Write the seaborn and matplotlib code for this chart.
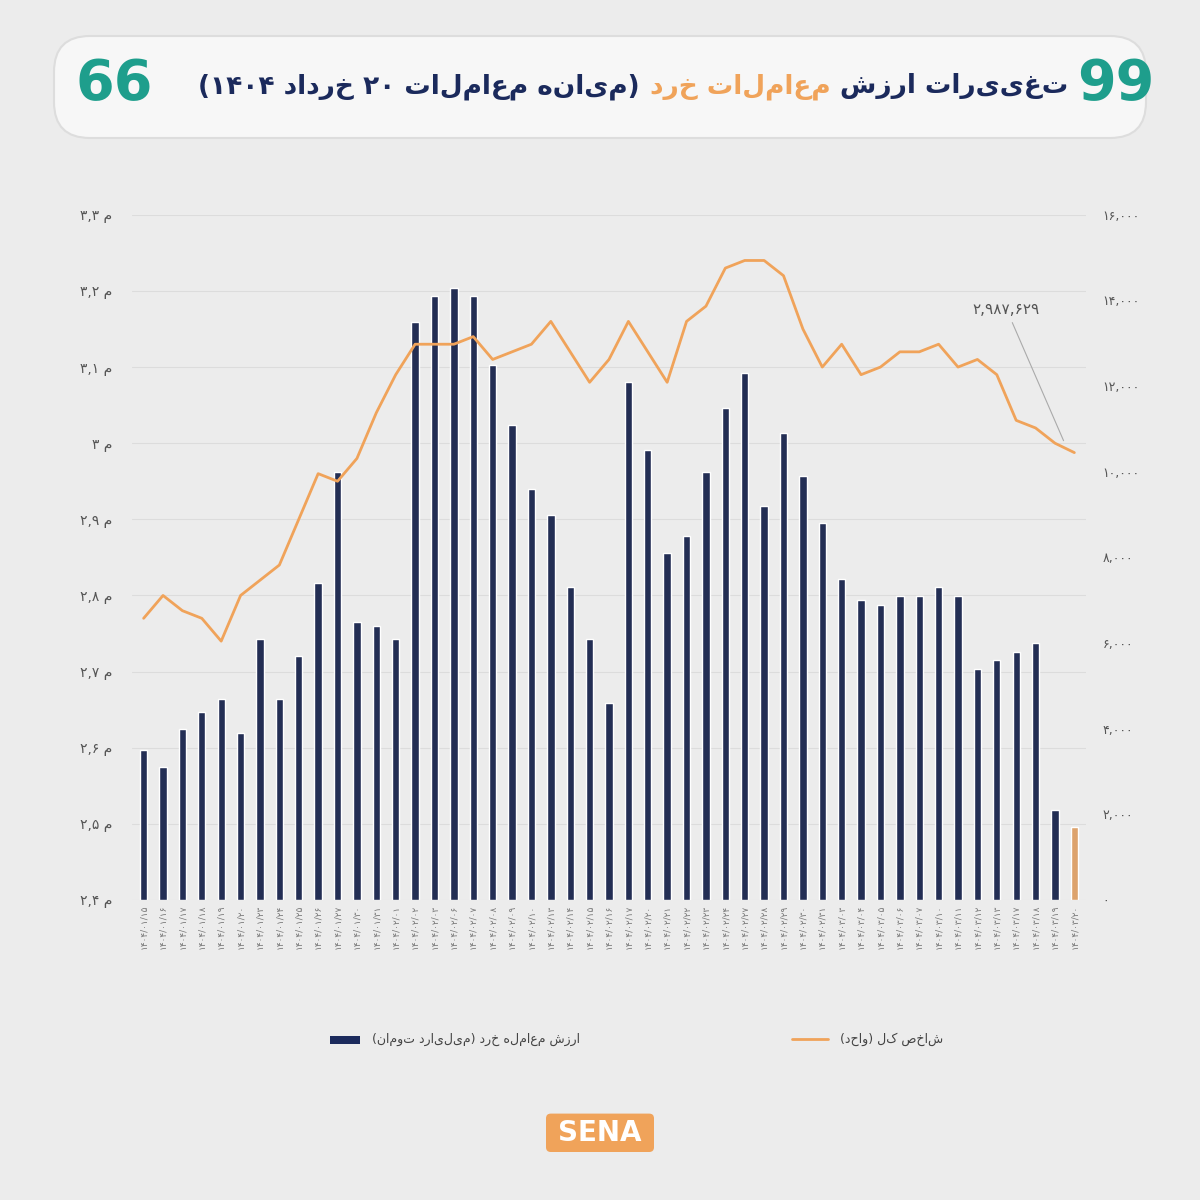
import matplotlib
matplotlib.use("Agg")
import matplotlib.pyplot as plt
import seaborn as sns
import pandas as pd
import re
from matplotlib.patches import FancyBboxPatch

MIRROR = {"(": ")", ")": "("}

def fa(s):
    try:
        import arabic_reshaper
        from bidi.algorithm import get_display
        return get_display(arabic_reshaper.reshape(s))
    except Exception:
        toks = re.findall(r"[۰-۹0-9][۰-۹0-9,./]*|[^۰-۹0-9]+", s)
        out = []
        for t in reversed(toks):
            if re.match(r"[۰-۹0-9]", t):
                out.append(t)
            else:
                out.append("".join(MIRROR.get(c, c) for c in reversed(t)))
        return "".join(out)

dates = ["۱۴۰۴/۰۱/۱۵","۱۴۰۴/۰۱/۱۶","۱۴۰۴/۰۱/۱۷","۱۴۰۴/۰۱/۱۸","۱۴۰۴/۰۱/۱۹","۱۴۰۴/۰۱/۲۰",
         "۱۴۰۴/۰۱/۲۳","۱۴۰۴/۰۱/۲۴","۱۴۰۴/۰۱/۲۵","۱۴۰۴/۰۱/۲۶","۱۴۰۴/۰۱/۲۷","۱۴۰۴/۰۱/۳۰","۱۴۰۴/۰۱/۳۱",
         "۱۴۰۴/۰۲/۰۱","۱۴۰۴/۰۲/۰۲","۱۴۰۴/۰۲/۰۳","۱۴۰۴/۰۲/۰۶","۱۴۰۴/۰۲/۰۷","۱۴۰۴/۰۲/۰۸","۱۴۰۴/۰۲/۰۹",
         "۱۴۰۴/۰۲/۱۰","۱۴۰۴/۰۲/۱۳","۱۴۰۴/۰۲/۱۴","۱۴۰۴/۰۲/۱۵","۱۴۰۴/۰۲/۱۶","۱۴۰۴/۰۲/۱۷","۱۴۰۴/۰۲/۲۰",
         "۱۴۰۴/۰۲/۲۱","۱۴۰۴/۰۲/۲۲","۱۴۰۴/۰۲/۲۳","۱۴۰۴/۰۲/۲۴","۱۴۰۴/۰۲/۲۷","۱۴۰۴/۰۲/۲۸","۱۴۰۴/۰۲/۲۹",
         "۱۴۰۴/۰۲/۳۰","۱۴۰۴/۰۲/۳۱","۱۴۰۴/۰۳/۰۳","۱۴۰۴/۰۳/۰۴","۱۴۰۴/۰۳/۰۵","۱۴۰۴/۰۳/۰۶","۱۴۰۴/۰۳/۰۷",
         "۱۴۰۴/۰۳/۱۰","۱۴۰۴/۰۳/۱۱","۱۴۰۴/۰۳/۱۲","۱۴۰۴/۰۳/۱۳","۱۴۰۴/۰۳/۱۷","۱۴۰۴/۰۳/۱۸","۱۴۰۴/۰۳/۱۹","۱۴۰۴/۰۳/۲۰"]

retail_value = [3500, 3100, 4000, 4400, 4700, 3900, 6100, 4700, 5700, 7400, 10000, 6500, 6400, 6100,
                13500, 14100, 14300, 14100, 12500, 11100, 9600, 9000, 7300, 6100, 4600, 12100, 10500,
                8100, 8500, 10000, 11500, 12300, 9200, 10900, 9900, 8800, 7500, 7000, 6900, 7100, 7100,
                7300, 7100, 5400, 5600, 5800, 6000, 2100, 1700]

index_value = [2.77, 2.80, 2.78, 2.77, 2.74, 2.80, 2.82, 2.84, 2.90, 2.96, 2.95, 2.98, 3.04, 3.09,
               3.13, 3.13, 3.13, 3.14, 3.11, 3.12, 3.13, 3.16, 3.12, 3.08, 3.11, 3.16, 3.12, 3.08,
               3.16, 3.18, 3.23, 3.24, 3.24, 3.22, 3.15, 3.10, 3.13, 3.09, 3.10, 3.12, 3.12, 3.13,
               3.10, 3.11, 3.09, 3.03, 3.02, 3.00, 2.987629]

left_ticks = [2.4, 2.5, 2.6, 2.7, 2.8, 2.9, 3.0, 3.1, 3.2, 3.3]
left_labels = ["۲,۴", "۲,۵", "۲,۶", "۲,۷", "۲,۸", "۲,۹", "۳", "۳,۱", "۳,۲", "۳,۳"]
right_ticks = [0, 2000, 4000, 6000, 8000, 10000, 12000, 14000, 16000]
right_labels = ["۰", "۲,۰۰۰", "۴,۰۰۰", "۶,۰۰۰", "۸,۰۰۰", "۱۰,۰۰۰", "۱۲,۰۰۰", "۱۴,۰۰۰", "۱۶,۰۰۰"]

NAVY = "#1b2a5c"
ORANGE = "#f0a35a"
BG = "#ececec"

sns.set_theme(style="white")
plt.rcParams['font.family'] = ['DejaVu Sans']

df = pd.DataFrame({"date": dates, "value": retail_value})
fig = plt.figure(figsize=(12, 12), dpi=100, facecolor=BG)

tb = FancyBboxPatch((0.045, 0.885), 0.91, 0.085, boxstyle="round,pad=0,rounding_size=0.03",
                    transform=fig.transFigure, facecolor="#f7f7f7", edgecolor="#dddddd", lw=1.5)
fig.patches.append(tb)
parts = [("تغییرات ارزش", NAVY), ("معاملات خرد", ORANGE), ("(میانه معاملات ۲۰ خرداد ۱۴۰۴)", NAVY)]
fig.canvas.draw()
r = fig.canvas.get_renderer()
x = 0.89
for txt, col in parts:
    t = fig.text(x, 0.928, fa(txt), ha="right", va="center", fontsize=19, fontweight="bold", color=col)
    bb = t.get_window_extent(r)
    x -= bb.width / 1200 + 0.008
fig.text(0.93, 0.93, "99", ha="center", va="center", fontsize=40, fontweight="bold", color="#1e9e8c")
fig.text(0.095, 0.93, "66", ha="center", va="center", fontsize=40, fontweight="bold", color="#1e9e8c")

ax = fig.add_axes([0.11, 0.25, 0.795, 0.571])
ax.set_facecolor(BG)
palette = [NAVY] * (len(dates) - 1) + [ORANGE]
sns.barplot(data=df, x="date", y="value", hue="date", palette=palette, legend=False,
            width=0.38, ax=ax, zorder=2)
ax.set_xlabel(""); ax.set_ylabel("")
ax.set_xticks(range(len(dates)))
ax.set_xticklabels(dates, rotation=90, fontsize=6.5, color="#777777")
ax.set_xlim(-0.6, len(dates) - 0.4)
for s in ax.spines.values():
    s.set_visible(False)

ax2 = ax.twinx()
ax2.plot(range(len(dates)), index_value, color=ORANGE, lw=2, zorder=3)
ax2.set_ylim(2.4, 3.3)
ax2.yaxis.tick_left()
ax2.yaxis.set_label_position("left")
ax2.set_yticks(left_ticks)
ax2.set_yticklabels([l + " " + fa("م") for l in left_labels], fontsize=10, color="#555555")
ax2.tick_params(axis="both", length=0)
ax2.tick_params(axis="y", pad=14)
for s in ax2.spines.values():
    s.set_visible(False)

ax.set_ylim(0, 16000)
ax.yaxis.tick_right()
ax.set_yticks(right_ticks)
ax.set_yticklabels(right_labels, fontsize=9, color="#555555")
ax.tick_params(axis="both", length=0)
ax.tick_params(axis="y", pad=12)
for yv in left_ticks:
    ax.axhline((yv - 2.4) / 0.9 * 16000, color="#dcdcdc", lw=0.8, zorder=0)

ax2.annotate("۲,۹۸۷,۶۲۹", xy=(len(dates) - 1.5, 3.0), xytext=(len(dates) - 4.5, 3.17),
             fontsize=11, color="#555555", ha="center",
             arrowprops=dict(arrowstyle="-", color="#aaaaaa", lw=0.8))

fig.patches.append(FancyBboxPatch((0.275, 0.13), 0.025, 0.007, transform=fig.transFigure,
                                  boxstyle="square,pad=0", facecolor=NAVY, edgecolor="none"))
fig.text(0.31, 0.134, fa("ارزش معامله خرد (میلیارد تومان)"), fontsize=9, va="center", color="#444444")
fig.lines.append(plt.Line2D([0.66, 0.69], [0.134, 0.134], transform=fig.transFigure, color=ORANGE, lw=2))
fig.text(0.70, 0.134, fa("شاخص کل (واحد)"), fontsize=9, va="center", color="#444444")

fig.patches.append(FancyBboxPatch((0.455, 0.04), 0.09, 0.032, transform=fig.transFigure,
                                  boxstyle="round,pad=0,rounding_size=0.004", facecolor=ORANGE, edgecolor="none"))
fig.text(0.5, 0.056, "SENA", ha="center", va="center", fontsize=20, fontweight="bold", color="white")

fig.savefig("out.png", dpi=100, facecolor=BG)
